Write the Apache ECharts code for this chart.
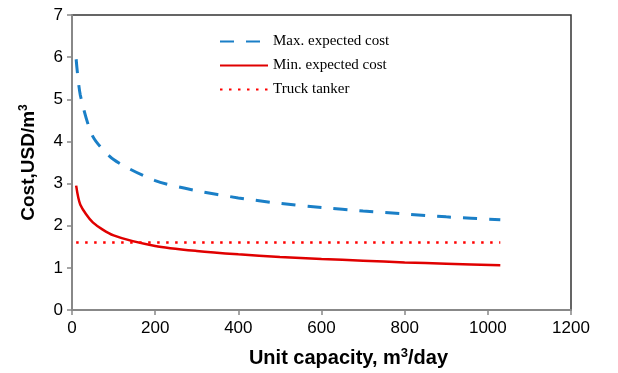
<!DOCTYPE html>
<html>
<head>
<meta charset="utf-8">
<script src="https://cdn.jsdelivr.net/npm/echarts@6/dist/echarts.min.js"></script>
<style>html,body{margin:0;padding:0;background:#fff}#c{width:618px;height:373px}</style>
</head>
<body>
<div id="c"></div>
<script>
var capacity = [10, 20, 50, 100, 200, 300, 400, 500, 600, 700, 800, 900, 1030];
var maxCost = [5.95, 5.1, 4.12, 3.57, 3.07, 2.83, 2.66, 2.53, 2.43, 2.35, 2.28, 2.21, 2.14];
var minCost = [2.95, 2.5, 2.08, 1.77, 1.52, 1.40, 1.32, 1.26, 1.21, 1.17, 1.13, 1.10, 1.06];
var truckX = [10, 1030];
var truckCost = [1.6, 1.6];
var xTicks = [0, 200, 400, 600, 800, 1000, 1200];
var yTicks = [0, 1, 2, 3, 4, 5, 6, 7];

function pairs(xs, ys) { return xs.map(function (x, i) { return [x, ys[i]]; }); }

var chart = echarts.init(document.getElementById('c'));
chart.setOption({
  animation: false,
  grid: { left: 72, right: 47, top: 15, bottom: 55, show: true, borderColor: '#333', borderWidth: 1.5 },
  legend: {
    orient: 'vertical', left: 214, top: 29, itemWidth: 48, itemHeight: 10, itemGap: 9,
    itemStyle: { opacity: 0 },
    textStyle: { fontFamily: 'Liberation Serif', fontSize: 15, color: '#000' },
    data: ['Max. expected cost', 'Min. expected cost', 'Truck tanker']
  },
  xAxis: {
    type: 'value', min: xTicks[0], max: xTicks[xTicks.length - 1], interval: 200,
    axisLine: { lineStyle: { color: '#888', width: 2 } },
    axisTick: { show: true, length: 5, lineStyle: { color: '#888', width: 1.5 } },
    axisLabel: { fontFamily: 'Liberation Sans', fontSize: 17, color: '#000', margin: 10,
      formatter: function (v) { return String(v); } },
    splitLine: { show: false },
    name: 'Unit capacity, m{sup|3}/day', nameLocation: 'middle', nameGap: 37,
    nameTextStyle: { fontFamily: 'Liberation Sans', fontSize: 20, fontWeight: 'bold', color: '#000',
      padding: [0, 0, 0, 54],
      rich: { sup: { fontFamily: 'Liberation Sans', fontSize: 13, fontWeight: 'bold', color: '#000', verticalAlign: 'top', padding: [0, 0, 9, 0] } } }
  },
  yAxis: {
    type: 'value', min: yTicks[0], max: yTicks[yTicks.length - 1], interval: 1,
    axisLine: { show: true, lineStyle: { color: '#888', width: 2 } },
    axisTick: { show: true, length: 5, lineStyle: { color: '#888', width: 1.5 } },
    axisLabel: { fontFamily: 'Liberation Sans', fontSize: 17, color: '#000', margin: 9 },
    splitLine: { show: false },
    name: 'Cost,USD/m{sup|3}', nameLocation: 'middle', nameGap: 33, nameRotate: 90,
    nameTextStyle: { fontFamily: 'Liberation Sans', fontSize: 19, fontWeight: 'bold', color: '#000',
      rich: { sup: { fontFamily: 'Liberation Sans', fontSize: 12, fontWeight: 'bold', color: '#000', verticalAlign: 'top', padding: [0, 0, 9, 0] } } }
  },
  series: [
    { name: 'Max. expected cost', type: 'line', data: pairs(capacity, maxCost), smooth: 0.25, symbol: 'none',
      lineStyle: { color: '#1a7fc7', width: 3, type: [14, 12] }, itemStyle: { color: '#1a7fc7' } },
    { name: 'Min. expected cost', type: 'line', data: pairs(capacity, minCost), smooth: 0.25, symbol: 'none',
      lineStyle: { color: '#e00000', width: 2.5, type: 'solid' }, itemStyle: { color: '#e00000' } },
    { name: 'Truck tanker', type: 'line', data: pairs(truckX, truckCost), symbol: 'none',
      lineStyle: { color: '#ff0000', width: 2.5, type: [2.5, 6.5] }, itemStyle: { color: '#ff0000' } }
  ]
});
</script>
</body>
</html>
